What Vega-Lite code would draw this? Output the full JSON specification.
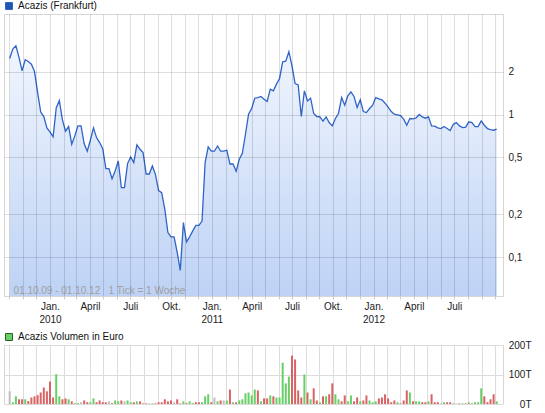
{
"$schema": "https://vega.github.io/schema/vega-lite/v6.json",
"padding": {"left": 3, "top": 0, "right": 0, "bottom": 0},
"background": "white",
"spacing": 6,
"config": {
  "font": "Liberation Sans",
  "view": {"stroke": "#d6d6d6"},
  "axis": {"labelFont": "Liberation Sans", "labelFontSize": 10, "labelColor": "#222222", "title": null},
  "legend": {"labelFont": "Liberation Sans", "labelFontSize": 10, "labelColor": "#111111"}
},
"datasets": {"w": [
{"d":"2009-10-02","p":2.47,"v":43000,"c":"flat"},
{"d":"2009-10-09","p":2.87,"v":6000,"c":"up"},
{"d":"2009-10-16","p":3.03,"v":26000,"c":"up"},
{"d":"2009-10-23","p":2.51,"v":16000,"c":"down"},
{"d":"2009-10-30","p":2.02,"v":16000,"c":"down"},
{"d":"2009-11-06","p":2.42,"v":16000,"c":"up"},
{"d":"2009-11-13","p":2.35,"v":10000,"c":"down"},
{"d":"2009-11-20","p":2.25,"v":22000,"c":"down"},
{"d":"2009-11-27","p":2.0,"v":26000,"c":"down"},
{"d":"2009-12-04","p":1.43,"v":30000,"c":"down"},
{"d":"2009-12-11","p":1.04,"v":39000,"c":"down"},
{"d":"2009-12-18","p":0.968,"v":56000,"c":"down"},
{"d":"2009-12-25","p":0.806,"v":43000,"c":"down"},
{"d":"2010-01-01","p":0.755,"v":76000,"c":"down"},
{"d":"2010-01-08","p":0.697,"v":22000,"c":"down"},
{"d":"2010-01-15","p":1.11,"v":101000,"c":"up"},
{"d":"2010-01-22","p":1.25,"v":26000,"c":"up"},
{"d":"2010-01-29","p":0.917,"v":16000,"c":"down"},
{"d":"2010-02-05","p":0.764,"v":19000,"c":"down"},
{"d":"2010-02-12","p":0.823,"v":16000,"c":"up"},
{"d":"2010-02-19","p":0.619,"v":9000,"c":"down"},
{"d":"2010-02-26","p":0.708,"v":3000,"c":"up"},
{"d":"2010-03-05","p":0.832,"v":3000,"c":"up"},
{"d":"2010-03-12","p":0.832,"v":6000,"c":"flat"},
{"d":"2010-03-19","p":0.626,"v":12000,"c":"down"},
{"d":"2010-03-26","p":0.553,"v":6000,"c":"down"},
{"d":"2010-04-02","p":0.66,"v":6000,"c":"up"},
{"d":"2010-04-09","p":0.806,"v":19000,"c":"up"},
{"d":"2010-04-16","p":0.689,"v":6000,"c":"down"},
{"d":"2010-04-23","p":0.636,"v":12000,"c":"down"},
{"d":"2010-04-30","p":0.577,"v":6000,"c":"down"},
{"d":"2010-05-07","p":0.418,"v":6000,"c":"down"},
{"d":"2010-05-14","p":0.418,"v":9000,"c":"flat"},
{"d":"2010-05-21","p":0.355,"v":3000,"c":"down"},
{"d":"2010-05-28","p":0.402,"v":12000,"c":"up"},
{"d":"2010-06-04","p":0.473,"v":9000,"c":"up"},
{"d":"2010-06-11","p":0.307,"v":12000,"c":"down"},
{"d":"2010-06-18","p":0.307,"v":9000,"c":"flat"},
{"d":"2010-06-25","p":0.453,"v":12000,"c":"up"},
{"d":"2010-07-02","p":0.504,"v":6000,"c":"up"},
{"d":"2010-07-09","p":0.46,"v":6000,"c":"down"},
{"d":"2010-07-16","p":0.612,"v":9000,"c":"up"},
{"d":"2010-07-23","p":0.571,"v":9000,"c":"down"},
{"d":"2010-07-30","p":0.541,"v":2000,"c":"down"},
{"d":"2010-08-06","p":0.383,"v":2000,"c":"down"},
{"d":"2010-08-13","p":0.383,"v":2000,"c":"flat"},
{"d":"2010-08-20","p":0.436,"v":2000,"c":"up"},
{"d":"2010-08-27","p":0.379,"v":2000,"c":"down"},
{"d":"2010-09-03","p":0.293,"v":6000,"c":"down"},
{"d":"2010-09-10","p":0.283,"v":6000,"c":"down"},
{"d":"2010-09-17","p":0.217,"v":16000,"c":"down"},
{"d":"2010-09-24","p":0.149,"v":9000,"c":"down"},
{"d":"2010-10-01","p":0.139,"v":12000,"c":"down"},
{"d":"2010-10-08","p":0.139,"v":6000,"c":"flat"},
{"d":"2010-10-15","p":0.108,"v":16000,"c":"down"},
{"d":"2010-10-22","p":0.081,"v":2000,"c":"down"},
{"d":"2010-10-29","p":0.175,"v":9000,"c":"up"},
{"d":"2010-11-05","p":0.128,"v":3000,"c":"down"},
{"d":"2010-11-12","p":0.139,"v":9000,"c":"up"},
{"d":"2010-11-19","p":0.153,"v":3000,"c":"up"},
{"d":"2010-11-26","p":0.167,"v":6000,"c":"down"},
{"d":"2010-12-03","p":0.167,"v":6000,"c":"down"},
{"d":"2010-12-10","p":0.179,"v":6000,"c":"up"},
{"d":"2010-12-17","p":0.46,"v":26000,"c":"up"},
{"d":"2010-12-24","p":0.593,"v":33000,"c":"up"},
{"d":"2010-12-31","p":0.553,"v":6000,"c":"down"},
{"d":"2011-01-07","p":0.553,"v":22000,"c":"flat"},
{"d":"2011-01-14","p":0.602,"v":9000,"c":"up"},
{"d":"2011-01-21","p":0.553,"v":12000,"c":"down"},
{"d":"2011-01-28","p":0.553,"v":12000,"c":"flat"},
{"d":"2011-02-04","p":0.562,"v":12000,"c":"up"},
{"d":"2011-02-11","p":0.45,"v":49000,"c":"down"},
{"d":"2011-02-18","p":0.45,"v":6000,"c":"up"},
{"d":"2011-02-25","p":0.4,"v":6000,"c":"down"},
{"d":"2011-03-04","p":0.486,"v":12000,"c":"up"},
{"d":"2011-03-11","p":0.535,"v":16000,"c":"up"},
{"d":"2011-03-18","p":0.727,"v":36000,"c":"up"},
{"d":"2011-03-25","p":1.005,"v":39000,"c":"up"},
{"d":"2011-04-01","p":1.1,"v":29000,"c":"up"},
{"d":"2011-04-08","p":1.3,"v":49000,"c":"up"},
{"d":"2011-04-15","p":1.315,"v":46000,"c":"down"},
{"d":"2011-04-22","p":1.337,"v":9000,"c":"up"},
{"d":"2011-04-29","p":1.28,"v":19000,"c":"down"},
{"d":"2011-05-06","p":1.233,"v":19000,"c":"down"},
{"d":"2011-05-13","p":1.505,"v":29000,"c":"up"},
{"d":"2011-05-20","p":1.465,"v":26000,"c":"down"},
{"d":"2011-05-27","p":1.632,"v":22000,"c":"up"},
{"d":"2011-06-03","p":1.788,"v":22000,"c":"up"},
{"d":"2011-06-10","p":2.341,"v":140000,"c":"up"},
{"d":"2011-06-17","p":2.366,"v":70000,"c":"up"},
{"d":"2011-06-24","p":2.751,"v":93000,"c":"up"},
{"d":"2011-07-01","p":2.194,"v":164000,"c":"down"},
{"d":"2011-07-08","p":1.649,"v":151000,"c":"down"},
{"d":"2011-07-15","p":1.614,"v":46000,"c":"down"},
{"d":"2011-07-22","p":0.968,"v":22000,"c":"down"},
{"d":"2011-07-29","p":1.465,"v":100000,"c":"up"},
{"d":"2011-08-05","p":1.246,"v":39000,"c":"down"},
{"d":"2011-08-12","p":1.301,"v":16000,"c":"up"},
{"d":"2011-08-19","p":1.016,"v":53000,"c":"down"},
{"d":"2011-08-26","p":0.968,"v":12000,"c":"down"},
{"d":"2011-09-02","p":0.962,"v":6000,"c":"up"},
{"d":"2011-09-09","p":0.897,"v":26000,"c":"down"},
{"d":"2011-09-16","p":0.962,"v":26000,"c":"up"},
{"d":"2011-09-23","p":0.878,"v":33000,"c":"down"},
{"d":"2011-09-30","p":0.832,"v":70000,"c":"down"},
{"d":"2011-10-07","p":0.937,"v":33000,"c":"up"},
{"d":"2011-10-14","p":1.021,"v":16000,"c":"up"},
{"d":"2011-10-21","p":1.315,"v":9000,"c":"down"},
{"d":"2011-10-28","p":1.162,"v":29000,"c":"down"},
{"d":"2011-11-04","p":1.351,"v":9000,"c":"up"},
{"d":"2011-11-11","p":1.441,"v":29000,"c":"up"},
{"d":"2011-11-18","p":1.337,"v":9000,"c":"down"},
{"d":"2011-11-25","p":1.119,"v":22000,"c":"down"},
{"d":"2011-12-02","p":1.267,"v":9000,"c":"up"},
{"d":"2011-12-09","p":1.049,"v":12000,"c":"down"},
{"d":"2011-12-16","p":1.032,"v":29000,"c":"down"},
{"d":"2011-12-23","p":1.101,"v":12000,"c":"up"},
{"d":"2011-12-30","p":1.162,"v":6000,"c":"up"},
{"d":"2012-01-06","p":1.315,"v":9000,"c":"up"},
{"d":"2012-01-13","p":1.287,"v":19000,"c":"down"},
{"d":"2012-01-20","p":1.267,"v":22000,"c":"down"},
{"d":"2012-01-27","p":1.2,"v":33000,"c":"down"},
{"d":"2012-02-03","p":1.125,"v":19000,"c":"down"},
{"d":"2012-02-10","p":1.049,"v":6000,"c":"down"},
{"d":"2012-02-17","p":1.005,"v":12000,"c":"down"},
{"d":"2012-02-24","p":0.994,"v":6000,"c":"up"},
{"d":"2012-03-02","p":0.983,"v":2000,"c":"down"},
{"d":"2012-03-09","p":0.927,"v":12000,"c":"down"},
{"d":"2012-03-16","p":0.841,"v":46000,"c":"down"},
{"d":"2012-03-23","p":0.937,"v":39000,"c":"up"},
{"d":"2012-03-30","p":0.932,"v":9000,"c":"down"},
{"d":"2012-04-06","p":0.947,"v":9000,"c":"up"},
{"d":"2012-04-13","p":1.0,"v":9000,"c":"up"},
{"d":"2012-04-20","p":0.962,"v":6000,"c":"down"},
{"d":"2012-04-27","p":0.942,"v":6000,"c":"down"},
{"d":"2012-05-04","p":0.962,"v":9000,"c":"up"},
{"d":"2012-05-11","p":0.832,"v":33000,"c":"down"},
{"d":"2012-05-18","p":0.828,"v":6000,"c":"down"},
{"d":"2012-05-25","p":0.806,"v":6000,"c":"down"},
{"d":"2012-06-01","p":0.797,"v":1000,"c":"down"},
{"d":"2012-06-08","p":0.823,"v":6000,"c":"up"},
{"d":"2012-06-15","p":0.797,"v":6000,"c":"down"},
{"d":"2012-06-22","p":0.772,"v":6000,"c":"down"},
{"d":"2012-06-29","p":0.855,"v":2000,"c":"up"},
{"d":"2012-07-06","p":0.878,"v":1000,"c":"up"},
{"d":"2012-07-13","p":0.832,"v":2000,"c":"down"},
{"d":"2012-07-20","p":0.81,"v":2000,"c":"up"},
{"d":"2012-07-27","p":0.815,"v":2000,"c":"down"},
{"d":"2012-08-03","p":0.888,"v":6000,"c":"up"},
{"d":"2012-08-10","p":0.878,"v":2000,"c":"down"},
{"d":"2012-08-17","p":0.823,"v":6000,"c":"up"},
{"d":"2012-08-24","p":0.823,"v":6000,"c":"up"},
{"d":"2012-08-31","p":0.902,"v":53000,"c":"up"},
{"d":"2012-09-07","p":0.841,"v":26000,"c":"down"},
{"d":"2012-09-14","p":0.797,"v":6000,"c":"down"},
{"d":"2012-09-21","p":0.784,"v":16000,"c":"down"},
{"d":"2012-09-28","p":0.776,"v":33000,"c":"down"},
{"d":"2012-10-05","p":0.789,"v":9000,"c":"up"}
]},
"vconcat": [
{
  "width": 499, "height": 282,
  "encoding": {
    "x": {"field": "d", "type": "temporal",
      "scale": {"type": "utc", "domain": [1254307852800, 1349643168000]},
      "axis": {"orient": "bottom", "tickCount": {"interval": "month", "step": 1},
        "labelExpr": "datum.value < 1255000000000 || datum.value > 1348000000000 ? '' : utcmonth(datum.value)==0 ? ['Jan.', utcFormat(datum.value,'%Y')] : utcmonth(datum.value)==3 ? 'April' : utcmonth(datum.value)==6 ? 'Juli' : utcmonth(datum.value)==9 ? 'Okt.' : ''",
        "grid": true, "gridColor": "#000000", "gridOpacity": 0.13, "zindex": 1,
        "ticks": true, "tickSize": 3, "tickColor": "#cccccc", "domain": false,
        "labelPadding": 2, "labelOverlap": false, "labelFlush": false, "labelBound": false,
        "labelLineHeight": 13, "labelBaseline": "top"}},
    "y": {"field": "p", "type": "quantitative",
      "scale": {"type": "log", "domain": [0.0535, 5.06]},
      "axis": {"orient": "right", "values": [0.1, 0.2, 0.5, 1, 2],
        "labelExpr": "replace(datum.value + '', '.', ',')",
        "grid": true, "gridColor": "#000000", "gridOpacity": 0.13, "zindex": 1,
        "ticks": false, "domain": false, "labelPadding": 5, "labelAlign": "left"}}
  },
  "layer": [
    {"data": {"name": "w"},
     "mark": {"type": "area", "line": false,
       "fill": {"gradient": "linear", "x1": 0, "y1": 0, "x2": 0, "y2": 1,
         "stops": [{"offset": 0, "color": "#f1f6fe"}, {"offset": 1, "color": "#bdd2f5"}]}},
     "encoding": {"y2": {"datum": 0.0535}}},
    {"data": {"name": "w"},
     "mark": {"type": "line", "strokeWidth": 1.3},
     "encoding": {"color": {"datum": "Acazis (Frankfurt)",
        "scale": {"range": ["#2f64c8"]},
        "legend": {"title": null, "orient": "none", "legendX": 0, "legendY": -13,
          "symbolType": "square", "symbolSize": 49, "labelOffset": 4,
          "encode": {"symbols": {"update": {"fill": {"value": "#1f55b5"}, "stroke": {"value": "#0b2c6e"},
             "strokeWidth": {"value": 1}, "shape": {"value": "square"}, "size": {"value": 49}, "opacity": {"value": 1}}}}}}}},
    {"data": {"values": [{"d": "2009-10-10T14:00:00Z", "p": 0.058, "t": "01.10.09 - 01.10.12\u00a0\u00a0\u00a01 Tick = 1 Woche"}]},
     "mark": {"type": "text", "align": "left", "baseline": "middle", "fontSize": 10, "color": "#a0a0a0"},
     "encoding": {"text": {"field": "t"}}}
  ]
},
{
  "width": 499, "height": 59,
  "data": {"name": "w"},
  "mark": {"type": "bar", "width": 2},
  "encoding": {
    "x": {"field": "d", "type": "temporal",
      "scale": {"type": "utc", "domain": [1254307852800, 1349643168000]},
      "axis": {"labels": false, "ticks": false, "domain": false, "grid": true,
        "tickCount": {"interval": "month", "step": 1}, "gridColor": "#dcdcdc"}},
    "y": {"field": "v", "type": "quantitative",
      "scale": {"domain": [0, 200000]},
      "axis": {"orient": "right", "values": [0, 100000, 200000],
        "labelExpr": "format(datum.value/1000, 'd') + 'T'",
        "labelAlign": "right", "labelPadding": 28, "grid": true, "gridColor": "#dcdcdc",
        "ticks": false, "domain": false}},
    "color": {"field": "c", "type": "nominal",
      "scale": {"domain": ["up", "down", "flat"], "range": ["#66d066", "#da6262", "#bdbdbd"]},
      "legend": {"values": ["up"], "labelExpr": "'Acazis Volumen in Euro'", "title": null,
        "orient": "none", "legendX": 0, "legendY": -13, "symbolType": "square", "symbolSize": 49, "labelOffset": 4,
        "encode": {"symbols": {"update": {"stroke": {"value": "#2b5c2b"}, "strokeWidth": {"value": 1}}}}}}
  }
}
],
"resolve": {"scale": {"x": "shared", "color": "independent"}, "legend": {"color": "independent"}}
}
